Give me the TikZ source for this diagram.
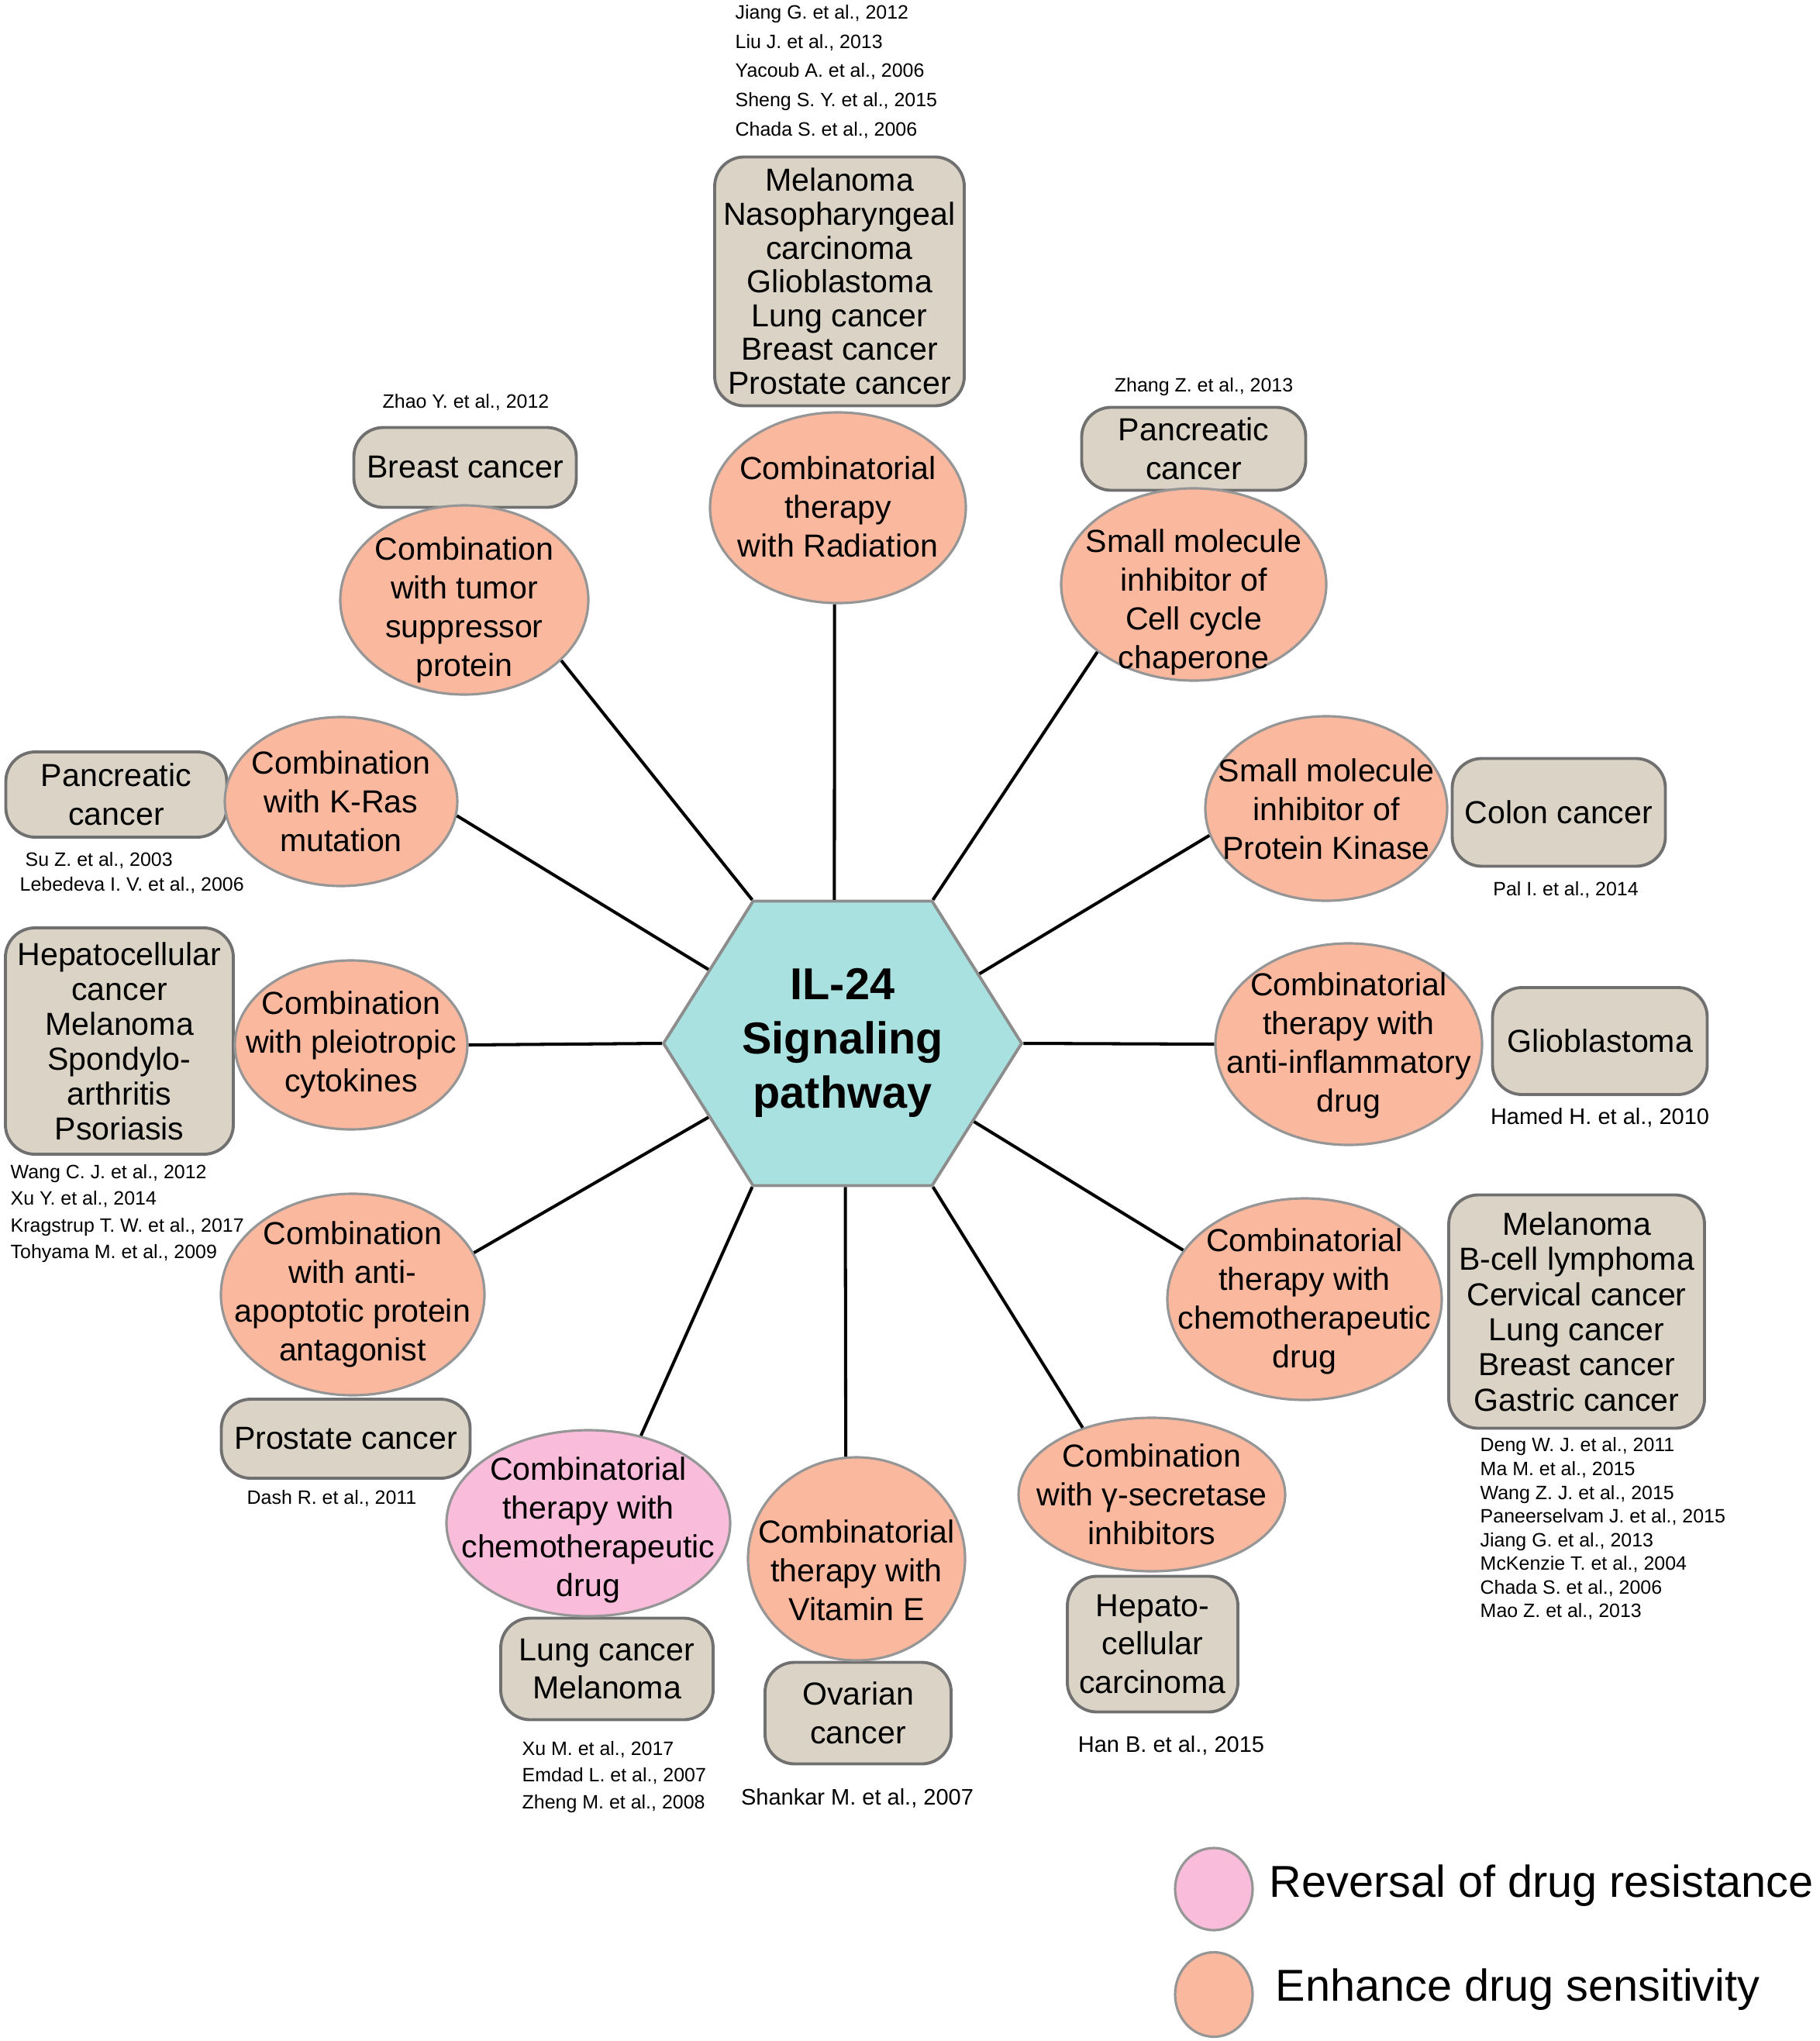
\documentclass[tikz,border=0pt]{standalone}
\usepackage{fontspec}
\setmainfont{Liberation Sans}
\usetikzlibrary{shapes.geometric}

\definecolor{salmon}{RGB}{250,184,158}
\definecolor{rosepink}{RGB}{249,188,218}
\definecolor{sand}{RGB}{219,211,197}
\definecolor{aqua}{RGB}{168,225,224}
\definecolor{rimgray}{RGB}{150,150,150}
\definecolor{boxgray}{RGB}{112,112,112}

\tikzset{
  pod/.style={ellipse, draw=rimgray, line width=0.9pt, fill=salmon, inner sep=0pt},
  podpink/.style={pod, fill=rosepink},
  podtext/.style={align=center, inner sep=0pt, font=\fontsize{11.7pt}{14.2pt}\selectfont},
  cancer/.style={rectangle, rounded corners=0.38cm, draw=boxgray, line width=1.1pt, fill=sand,
    inner sep=0pt, align=center, font=\fontsize{11.7pt}{14.2pt}\selectfont},
  reflist/.style={inner sep=0pt, align=left, anchor=west},
  refsmall/.style={inner sep=0pt, font=\fontsize{7.1pt}{10pt}\selectfont},
  refbig/.style={inner sep=0pt, font=\fontsize{8.25pt}{10pt}\selectfont},
  link/.style={line width=1.15pt, black},
  hexhub/.style={regular polygon, regular polygon sides=6, minimum size=4.62cm, inner sep=0pt,
    fill=aqua, draw=boxgray!80!white, line width=1.1pt},
  legendtext/.style={inner sep=0pt, anchor=west, font=\fontsize{16.4pt}{19pt}\selectfont}
}

\begin{document}
\begin{tikzpicture}[x=1cm, y=-1cm]
  \useasboundingbox (0,0) rectangle (23.47,26.33);

  % Hub
  \begin{scope}[shift={(10.87,13.46)}, yscale=0.917]
    \node[hexhub, transform shape] (hub) at (0,0) {};
  \end{scope}
  \node[align=center, inner sep=0pt, font=\fontsize{16.4pt}{19.9pt}\selectfont\bfseries] (hublabel) at (10.87,13.45) {IL-24\\Signaling\\pathway};

  % Cancer boxes
  \node[cancer, minimum width=3.22cm, minimum height=3.21cm, font=\fontsize{11.7pt}{12.4pt}\selectfont] (b1) at (10.83,3.63)
    {Melanoma\\Nasopharyngeal\\carcinoma\\Glioblastoma\\Lung cancer\\Breast cancer\\Prostate cancer};
  \node[cancer, minimum width=2.87cm, minimum height=1.03cm] (b2) at (6.00,6.03) {Breast cancer};
  \node[cancer, minimum width=2.89cm, minimum height=1.07cm] (b3) at (15.40,5.79) {Pancreatic\\cancer};
  \node[cancer, minimum width=2.85cm, minimum height=1.10cm] (b4) at (1.50,10.25) {Pancreatic\\cancer};
  \node[cancer, minimum width=2.75cm, minimum height=1.39cm] (b5) at (20.11,10.48) {Colon cancer};
  \node[cancer, minimum width=2.94cm, minimum height=2.92cm, font=\fontsize{11.7pt}{12.8pt}\selectfont] (b6) at (1.54,13.43)
    {Hepatocellular\\cancer\\Melanoma\\Spondylo-\\arthritis\\Psoriasis};
  \node[cancer, minimum width=2.77cm, minimum height=1.38cm] (b7) at (20.64,13.43) {Glioblastoma};
  \node[cancer, minimum width=3.30cm, minimum height=3.01cm, font=\fontsize{11.7pt}{12.9pt}\selectfont] (b8) at (20.34,16.92)
    {Melanoma\\B-cell lymphoma\\Cervical cancer\\Lung cancer\\Breast cancer\\Gastric cancer};
  \node[cancer, minimum width=3.21cm, minimum height=1.02cm] (b9) at (4.46,18.56) {Prostate cancer};
  \node[cancer, minimum width=2.74cm, minimum height=1.31cm] (b10) at (7.83,21.53) {Lung cancer\\Melanoma};
  \node[cancer, minimum width=2.40cm, minimum height=1.31cm] (b11) at (11.07,22.10) {Ovarian\\cancer};
  \node[cancer, minimum width=2.20cm, minimum height=1.75cm] (b12) at (14.87,21.21) {Hepato-\\cellular\\carcinoma};

  % Therapy ellipses
  \node[pod, minimum width=3.30cm, minimum height=2.46cm] (e1) at (10.81,6.55) {};
  \node[pod, minimum width=3.20cm, minimum height=2.44cm] (e2) at (5.99,7.74) {};
  \node[pod, minimum width=3.42cm, minimum height=2.48cm] (e3) at (15.40,7.54) {};
  \node[pod, minimum width=3.00cm, minimum height=2.18cm] (e4) at (4.40,10.34) {};
  \node[pod, minimum width=3.12cm, minimum height=2.38cm] (e5) at (17.11,10.43) {};
  \node[pod, minimum width=3.00cm, minimum height=2.18cm] (e6) at (4.53,13.48) {};
  \node[pod, minimum width=3.44cm, minimum height=2.60cm] (e7) at (17.40,13.47) {};
  \node[pod, minimum width=3.40cm, minimum height=2.60cm] (e8) at (4.55,16.70) {};
  \node[pod, minimum width=3.54cm, minimum height=2.60cm] (e9) at (16.83,16.76) {};
  \node[podpink, minimum width=3.66cm, minimum height=2.40cm] (e10) at (7.59,19.65) {};
  \node[pod, minimum width=2.80cm, minimum height=2.62cm] (e11) at (11.05,20.11) {};
  \node[pod, minimum width=3.44cm, minimum height=1.98cm] (e12) at (14.86,19.28) {};

  \node[podtext] (e1t) at (10.81,6.54) {Combinatorial\\therapy\\with Radiation};
  \node[podtext] (e2t) at (5.99,7.87) {Combination\\with tumor\\suppressor\\protein};
  \node[podtext] (e3t) at (15.40,7.77) {Small molecule\\inhibitor of\\Cell cycle\\chaperone};
  \node[podtext] (e4t) at (4.40,10.34) {Combination\\with K-Ras\\mutation};
  \node[podtext] (e5t) at (17.11,10.44) {Small molecule\\inhibitor of\\Protein Kinase};
  \node[podtext] (e6t) at (4.53,13.48) {Combination\\with pleiotropic\\cytokines};
  \node[podtext] (e7t) at (17.40,13.49) {Combinatorial\\therapy with\\anti-inflammatory\\drug};
  \node[podtext] (e8t) at (4.55,16.70) {Combination\\with anti-\\apoptotic protein\\antagonist};
  \node[podtext] (e9t) at (16.83,16.79) {Combinatorial\\therapy with\\chemotherapeutic\\drug};
  \node[podtext] (e10t) at (7.59,19.74) {Combinatorial\\therapy with\\chemotherapeutic\\drug};
  \node[podtext] (e11t) at (11.05,20.26) {Combinatorial\\therapy with\\Vitamin E};
  \node[podtext] (e12t) at (14.86,19.28) {Combination\\with γ-secretase\\inhibitors};

  % Connectors
  \draw[link] (e1.268) -- (hub.93);
  \draw[link] (e2.-32) -- (hub.120);
  \draw[link] (e3.215) -- (hub.60);
  \draw[link] (e4.-7) -- (hub.149);
  \draw[link] (e5.193) -- (hub.29);
  \draw[link] (e6.0) -- (hub.180);
  \draw[link] (e7.180) -- (hub.0);
  \draw[link] (e8.19) -- (hub.211);
  \draw[link] (e9.158) -- (hub.-33);
  \draw[link] (e10.59) -- (hub.240);
  \draw[link] (e11.96) -- (hub.271);
  \draw[link] (e12.136) -- (hub.300);

  % References
  \node[reflist, font=\fontsize{7.1pt}{10.7pt}\selectfont] (refb1) at (9.48,0.925)
    {Jiang G. et al., 2012\\Liu J. et al., 2013\\Yacoub A. et al., 2006\\Sheng S. Y. et al., 2015\\Chada S. et al., 2006};
  \node[refsmall] (refb2) at (6.01,5.19) {Zhao Y. et al., 2012};
  \node[refsmall] (refb3) at (15.53,4.99) {Zhang Z. et al., 2013};
  \node[reflist, font=\fontsize{7.1pt}{9.1pt}\selectfont] (refb4) at (0.25,11.26)
    {\hspace{0.07cm}Su Z. et al., 2003\\Lebedeva I. V. et al., 2006};
  \node[refsmall] (refb5) at (20.20,11.48) {Pal I. et al., 2014};
  \node[reflist, font=\fontsize{7.1pt}{9.8pt}\selectfont] (refb6) at (0.13,15.655)
    {Wang C. J. et al., 2012\\Xu Y. et al., 2014\\Kragstrup T. W. et al., 2017\\Tohyama M. et al., 2009};
  \node[refbig] (refb7) at (20.64,14.42) {Hamed H. et al., 2010};
  \node[reflist, font=\fontsize{7.1pt}{8.7pt}\selectfont] (refb8) at (19.09,19.725)
    {Deng W. J. et al., 2011\\Ma M. et al., 2015\\Wang Z. J. et al., 2015\\Paneerselvam J. et al., 2015\\Jiang G. et al., 2013\\McKenzie T. et al., 2004\\Chada S. et al., 2006\\Mao Z. et al., 2013};
  \node[refsmall] (refb9) at (4.28,19.33) {Dash R. et al., 2011};
  \node[reflist, font=\fontsize{7.1pt}{9.8pt}\selectfont] (refb10) at (6.73,22.925)
    {Xu M. et al., 2017\\Emdad L. et al., 2007\\Zheng M. et al., 2008};
  \node[refbig] (refb11) at (11.06,23.20) {Shankar M. et al., 2007};
  \node[refbig] (refb12) at (15.11,22.52) {Han B. et al., 2015};

  % Legend
  \node[podpink, minimum width=1.00cm, minimum height=1.06cm] (keypink) at (15.66,24.37) {};
  \node[pod, minimum width=1.00cm, minimum height=1.09cm] (keysalmon) at (15.66,25.73) {};
  \node[legendtext] (keypinktext) at (16.37,24.33) {Reversal of drug resistance};
  \node[legendtext] (keysalmontext) at (16.45,25.67) {Enhance drug sensitivity};
\end{tikzpicture}
\end{document}
